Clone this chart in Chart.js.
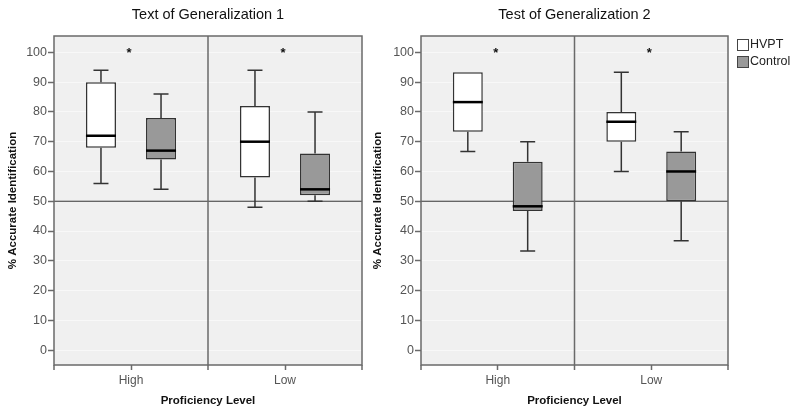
<!DOCTYPE html>
<html>
<head>
<meta charset="utf-8">
<script src="https://cdn.jsdelivr.net/npm/chart.js@4.4.0/dist/chart.umd.min.js"></script>
<style>
  body { margin: 0; background: #fff; }
  #wrap { position: relative; width: 794px; height: 410px; }
  #c1 { position: absolute; left: 0; top: 0; }
  #c2 { position: absolute; left: 365px; top: 0; }
</style>
</head>
<body>
<div id="wrap">
  <canvas id="c1" width="365" height="410"></canvas>
  <canvas id="c2" width="429" height="410"></canvas>
</div>
<script>
(function () {
  // Categories and groups
  const categories = ["High", "Low"];
  const groups = ["HVPT", "Control"];
  const yTicks = [0, 10, 20, 30, 40, 50, 60, 70, 80, 90, 100];

  // Five-number summaries per category: [min, q1, median, q3, max]
  const test1Hvpt = [[56, 68, 72, 90, 94], [48, 58, 70, 82, 94]];
  const test1Control = [[54, 64, 67, 78, 86], [50, 52, 54, 66, 80]];
  const test2Hvpt = [[66.7, 73.3, 83.3, 93.3, 93.3], [60, 70, 76.7, 80, 93.3]];
  const test2Control = [[33.3, 46.7, 48.3, 63.3, 70], [36.7, 50, 60, 66.7, 73.3]];

  // Chance level reference line and significance marks (y per category)
  const chanceLevel = 50;
  const sigMarks = [101, 101];

  const groupColors = ["#ffffff", "#999999"];
  const FONT = "'Liberation Sans', Arial, sans-serif";
  Chart.defaults.font.family = FONT;

  // Draws plot background, reference line, whiskers, medians, frame and marks
  const boxPlotPlugin = {
    id: "boxPlot",
    beforeDraw(chart) {
      const a = chart.chartArea;
      const ctx = chart.ctx;
      ctx.save();
      ctx.fillStyle = "#f0f0f0";
      ctx.fillRect(a.left, a.top, a.right - a.left, a.bottom - a.top);
      ctx.restore();
    },
    beforeDatasetsDraw(chart) {
      const a = chart.chartArea;
      const ctx = chart.ctx;
      const y = chart.scales.y.getPixelForValue(chanceLevel);
      ctx.save();
      ctx.strokeStyle = "#333";
      ctx.lineWidth = 1;
      ctx.beginPath();
      ctx.moveTo(a.left, y);
      ctx.lineTo(a.right, y);
      ctx.stroke();
      ctx.restore();
    },
    afterDatasetsDraw(chart) {
      const a = chart.chartArea;
      const ctx = chart.ctx;
      const ys = chart.scales.y;
      const xs = chart.scales.x;
      ctx.save();

      chart.data.datasets.forEach((ds, i) => {
        const meta = chart.getDatasetMeta(i);
        meta.data.forEach((bar, j) => {
          const s = ds.stats[j];
          const cx = bar.x;
          const half = bar.width / 2;
          const pMin = ys.getPixelForValue(s[0]);
          const pQ1 = ys.getPixelForValue(s[1]);
          const pMed = ys.getPixelForValue(s[2]);
          const pQ3 = ys.getPixelForValue(s[3]);
          const pMax = ys.getPixelForValue(s[4]);

          // whiskers with caps
          ctx.strokeStyle = "#333";
          ctx.lineWidth = 1.5;
          ctx.beginPath();
          if (s[4] > s[3]) {
            ctx.moveTo(cx, pQ3); ctx.lineTo(cx, pMax);
            ctx.moveTo(cx - 7.5, pMax); ctx.lineTo(cx + 7.5, pMax);
          }
          if (s[0] < s[1]) {
            ctx.moveTo(cx, pQ1); ctx.lineTo(cx, pMin);
            ctx.moveTo(cx - 7.5, pMin); ctx.lineTo(cx + 7.5, pMin);
          }
          ctx.stroke();

          // median
          ctx.strokeStyle = "#000";
          ctx.lineWidth = 2.5;
          ctx.beginPath();
          ctx.moveTo(cx - half, pMed);
          ctx.lineTo(cx + half, pMed);
          ctx.stroke();
        });
      });

      // frame, divider and edge ticks
      const mid = (xs.getPixelForValue(0) + xs.getPixelForValue(1)) / 2;
      ctx.strokeStyle = "#6a6a6a";
      ctx.lineWidth = 1.5;
      ctx.strokeRect(a.left, a.top, a.right - a.left, a.bottom - a.top);
      ctx.beginPath();
      ctx.moveTo(mid, a.top); ctx.lineTo(mid, a.bottom + 5);
      ctx.moveTo(a.left, a.bottom); ctx.lineTo(a.left, a.bottom + 5);
      ctx.moveTo(a.right, a.bottom); ctx.lineTo(a.right, a.bottom + 5);
      ctx.stroke();

      // significance asterisks
      ctx.fillStyle = "#111";
      ctx.font = "bold 13px " + FONT;
      ctx.textAlign = "center";
      ctx.textBaseline = "middle";
      sigMarks.forEach((v, j) => {
        ctx.fillText("*", xs.getPixelForValue(j) - 2, ys.getPixelForValue(v) + 4);
      });
      ctx.restore();
    },
  };

  // Legend drawn to the right of the plot
  const sideLegendPlugin = {
    id: "sideLegend",
    afterDraw(chart) {
      const a = chart.chartArea;
      const ctx = chart.ctx;
      ctx.save();
      ctx.font = "12.5px " + FONT;
      ctx.textBaseline = "middle";
      ctx.textAlign = "left";
      chart.data.datasets.forEach((ds, i) => {
        const x = a.right + 9;
        const y = a.top + 3 + i * 17;
        ctx.fillStyle = ds.backgroundColor;
        ctx.fillRect(x, y, 11, 11);
        ctx.strokeStyle = "#444";
        ctx.lineWidth = 1;
        ctx.strokeRect(x + 0.5, y + 0.5, 11, 11);
        ctx.fillStyle = "#222";
        ctx.fillText(ds.label, x + 13, y + 6);
      });
      ctx.restore();
    },
  };

  function makeDatasets(hvpt, control) {
    return [hvpt, control].map((stats, i) => ({
      label: groups[i],
      data: stats.map((s) => [s[1], s[3]]),
      stats: stats,
      backgroundColor: groupColors[i],
      borderColor: "#333",
      borderWidth: 1.5,
      borderSkipped: false,
      barPercentage: 0.5,
      categoryPercentage: 0.78,
    }));
  }

  function makeChart(canvasId, title, hvpt, control, axisWidth, padRight, withLegend) {
    const ctx = document.getElementById(canvasId).getContext("2d");
    return new Chart(ctx, {
      type: "bar",
      data: { labels: categories, datasets: makeDatasets(hvpt, control) },
      options: {
        responsive: false,
        animation: false,
        layout: { padding: { left: 0, right: padRight, top: 0, bottom: 0 } },
        plugins: {
          legend: { display: false },
          tooltip: { enabled: false },
          title: {
            display: true,
            text: title,
            fullSize: false,
            color: "#111",
            font: { size: 14.5, weight: "normal" },
            padding: { top: 6, bottom: 12.6 },
          },
        },
        scales: {
          x: {
            grid: { offset: false, drawOnChartArea: false, tickLength: 5, tickColor: "#6a6a6a", tickWidth: 1.5 },
            border: { display: false },
            ticks: { color: "#555", font: { size: 12 }, padding: 3 },
            title: {
              display: true,
              text: "Proficiency Level",
              color: "#111",
              font: { size: 11.5, weight: "bold" },
              padding: { top: 0, bottom: 2 },
            },
            afterFit: (s) => { s.height = 45; },
          },
          y: {
            min: -5,
            max: 105.5,
            afterBuildTicks: (s) => { s.ticks = yTicks.map((v) => ({ value: v })); },
            afterFit: (s) => { s.width = axisWidth; },
            grid: { color: "#f8f8f8", lineWidth: 1, tickLength: 6, tickColor: "#6a6a6a", tickWidth: 1.5 },
            border: { display: false },
            ticks: { color: "#555", font: { size: 12.5 }, padding: 1 },
            title: {
              display: true,
              text: "% Accurate Identification",
              color: "#111",
              font: { size: 11.5, weight: "bold" },
              padding: { top: 6, bottom: 0 },
            },
          },
        },
      },
      plugins: withLegend ? [boxPlotPlugin, sideLegendPlugin] : [boxPlotPlugin],
    });
  }

  makeChart("c1", "Text of Generalization 1", test1Hvpt, test1Control, 54, 3, false);
  makeChart("c2", "Test of Generalization 2", test2Hvpt, test2Control, 56, 66, true);
})();
</script>
</body>
</html>
